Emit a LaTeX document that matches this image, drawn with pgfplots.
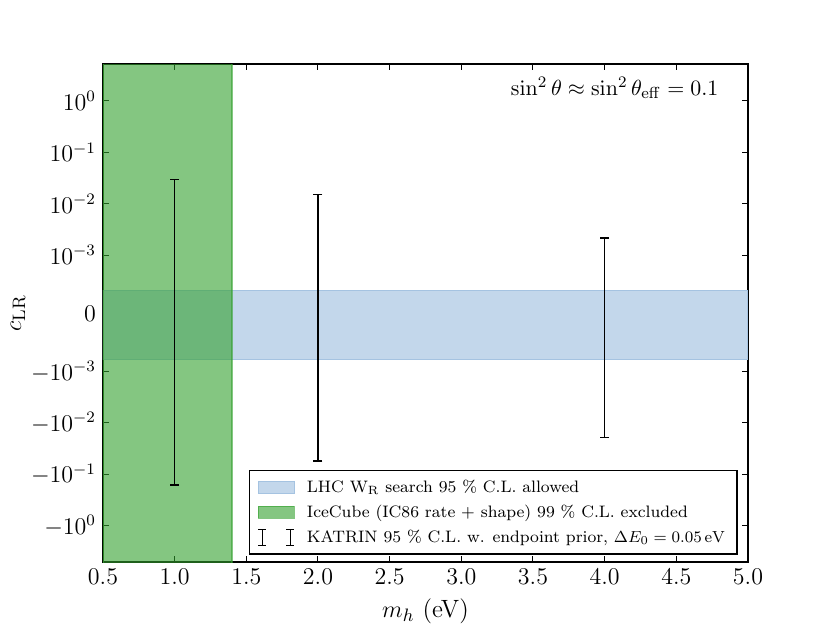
\documentclass[border=0pt]{standalone}
\usepackage{pgfplots}
\pgfplotsset{compat=1.18}
\definecolor{bandblue}{RGB}{195,215,235}
\definecolor{bandblueedge}{RGB}{165,195,225}
\definecolor{icgreen}{RGB}{50,160,45}
\pgfplotsset{
  bandlegend/.style={legend image code/.code={\draw[##1] (0pt,-3pt) rectangle (18pt,3pt); \path (0pt,0pt) (22pt,0pt);}},
  errlegend/.style={legend image code/.code={\draw[black, line width=0.6pt]
    (2pt,-4pt)--(2pt,4pt) (0pt,-4pt)--(4pt,-4pt) (0pt,4pt)--(4pt,4pt)
    (16pt,-4pt)--(16pt,4pt) (14pt,-4pt)--(18pt,-4pt) (14pt,4pt)--(18pt,4pt);
    \path (0pt,0pt) (22pt,0pt);}},
}
\begin{document}
\begin{tikzpicture}
\useasboundingbox (-51.5pt,-30.5pt) rectangle (363.5pt,281pt);
\begin{axis}[
  at={(0,0)}, anchor=south west,
  scale only axis, width=322.5pt, height=249pt,
  xmin=0.5, xmax=5.0,
  ymin=-4.98, ymax=5.1,
  % symlog axis, linear between -1e-3 and 1e-3
  y coord trafo/.code={\pgfmathparse{abs(#1)<0.001 ? 1113*(#1) : ((#1)<0 ? -1 : 1)*(log10(max(abs(#1),0.0001))+4.113)}},
  xtick={0.5,1,...,5},
  ytick={-1,-0.1,-0.01,-0.001,0,0.001,0.01,0.1,1},
  yticklabels={$-10^{0}$,$-10^{-1}$,$-10^{-2}$,$-10^{-3}$,$0$,$10^{-3}$,$10^{-2}$,$10^{-1}$,$10^{0}$},
  xticklabel style={/pgf/number format/.cd, fixed, fixed zerofill, precision=1},
  tick label style={font=\fontsize{11.5}{13}\selectfont},
  label style={font=\fontsize{12.5}{14}\selectfont},
  every axis y label/.style={at={(rel axis cs:0,0.5)}, xshift=-42.5pt, rotate=90,
    anchor=center, font=\fontsize{12.5}{14}\selectfont},
  minor tick num=0,
  tick align=inside,
  major tick length=3pt,
  axis line style={line width=0.8pt},
  every tick/.style={black, line width=0.5pt},
  xlabel={$m_h$ (eV)},
  ylabel={$c_{\rm LR}$},
  legend style={at={(1,0)}, xshift=-5pt, yshift=3.5pt, anchor=south east,
    draw=black, line width=0.8pt, font=\fontsize{8.3}{10}\selectfont,
    row sep=0.8pt, inner xsep=4pt, inner ysep=2.5pt},
  legend cell align=left,
]
\addplot[fill=bandblue, draw=bandblueedge, line width=0.6pt, bandlegend]
  coordinates {(0.5,-0.0008) (5.0,-0.0008) (5.0,0.0004) (0.5,0.0004)} -- cycle;
\addlegendentry{LHC W$_{\rm R}$ search 95 \% C.L. allowed}
\addplot[fill=icgreen, fill opacity=0.6, draw=icgreen, draw opacity=0.6, line width=0.6pt, bandlegend]
  coordinates {(0.5,-10) (1.4,-10) (1.4,10) (0.5,10)} -- cycle;
\addlegendentry{IceCube (IC86 rate + shape) 99 \% C.L. excluded}
\addplot[black, line width=0.7pt, mark=-, mark size=2.25pt, errlegend]
  coordinates {(1,0.030) (1,-0.162)};
\addlegendentry{KATRIN 95 \% C.L. w. endpoint prior, $\Delta E_0 = 0.05\,{\rm eV}$}
\addplot[black, line width=0.7pt, mark=-, mark size=2.25pt, forget plot]
  coordinates {(2,0.0153) (2,-0.055)};
\addplot[black, line width=0.7pt, mark=-, mark size=2.25pt, forget plot]
  coordinates {(4,0.0022) (4,-0.0197)};
\node[anchor=east, font=\fontsize{11}{13}\selectfont] at (rel axis cs:0.965,0.952)
  {$\sin^2\theta \approx \sin^2\theta_{\rm eff} = 0.1$};
\end{axis}
\end{tikzpicture}
\end{document}
